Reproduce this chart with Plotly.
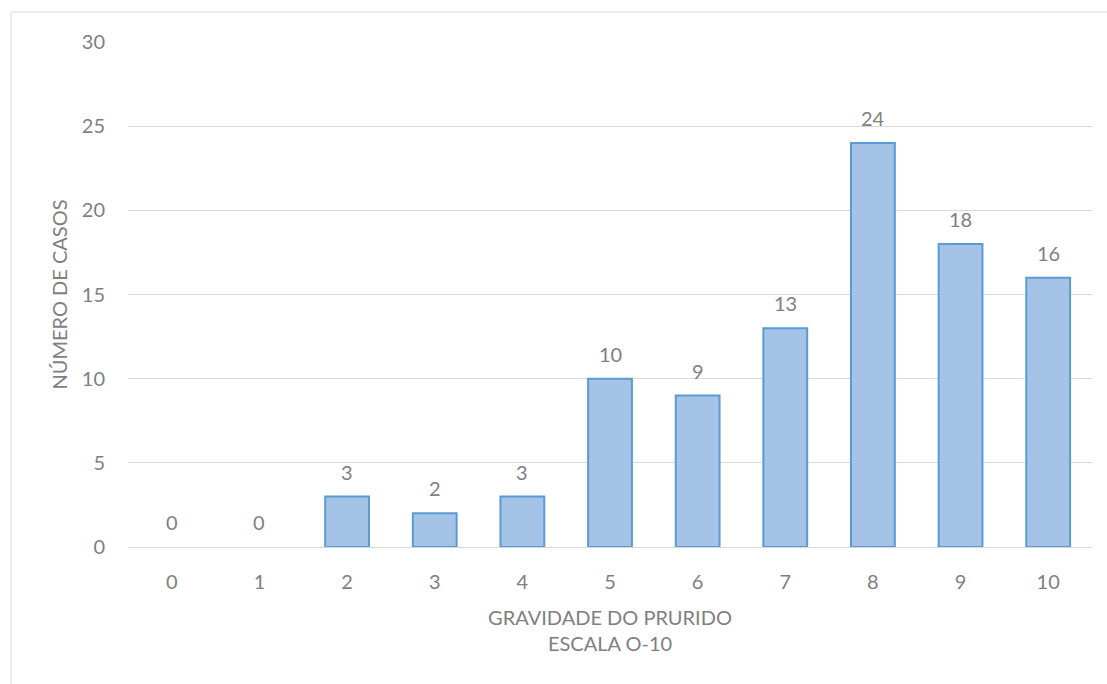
import plotly.graph_objects as go

categories = ["0", "1", "2", "3", "4", "5", "6", "7", "8", "9", "10"]
casos = [0, 0, 3, 2, 3, 10, 9, 13, 24, 18, 16]
y_ticks = [0, 5, 10, 15, 20, 25, 30]

x_title = "GRAVIDADE DO PRURIDO<br>ESCALA O-10"
y_title = "NÚMERO DE CASOS"

W, H = 1107, 684
ml, mr, mt, mb = 128, 15, 42, 137
pw, ph = W - ml - mr, H - mt - mb

font_family = "Lato, 'Open Sans', sans-serif"
grey = "#7f7f7f"
fs = 20

fig = go.Figure()
fig.add_trace(go.Bar(
    x=categories, y=casos, width=0.5,
    marker=dict(color="#a5c3e7",
                line=dict(color="#5b9bd5", width=[0 if v == 0 else 2 for v in casos])),
    hoverinfo="x+y",
))

for c, v in zip(categories, casos):
    fig.add_annotation(x=c, y=v, text=str(v), showarrow=False, yshift=25,
                       font=dict(family=font_family, size=fs, color=grey))

def px_to_paper_x(px):
    return (px - ml) / pw

def px_to_paper_y(py):
    return 1 - (py - mt) / ph

fig.add_shape(type="rect", xref="paper", yref="paper",
              x0=px_to_paper_x(11), x1=px_to_paper_x(W + 10),
              y0=px_to_paper_y(H + 10), y1=px_to_paper_y(12),
              line=dict(color="#d9d9d9", width=1), fillcolor="rgba(0,0,0,0)", layer="below")

fig.update_layout(
    width=W, height=H,
    margin=dict(l=ml, r=mr, t=mt, b=mb),
    paper_bgcolor="white", plot_bgcolor="white",
    font=dict(family=font_family, size=fs, color=grey),
    showlegend=False,
    xaxis=dict(
        type="category", range=[-0.5, 10.5],
        showgrid=False, showline=True, linecolor="#d9d9d9", linewidth=1,
        ticks="", ticklabelstandoff=17,
        tickfont=dict(family=font_family, size=fs, color=grey),
        title=dict(text=x_title, font=dict(family=font_family, size=fs, color=grey), standoff=18),
    ),
    yaxis=dict(
        range=[0, 30], tickvals=y_ticks,
        showgrid=True, gridcolor="#d9d9d9", gridwidth=1,
        zeroline=True, zerolinecolor="#d9d9d9", zerolinewidth=1,
        showline=False, ticks="", ticklabelstandoff=22,
        tickfont=dict(family=font_family, size=fs, color=grey),
        title=dict(text=y_title, font=dict(family=font_family, size=fs, color=grey), standoff=8),
    ),
)

fig.write_html("out.html")
